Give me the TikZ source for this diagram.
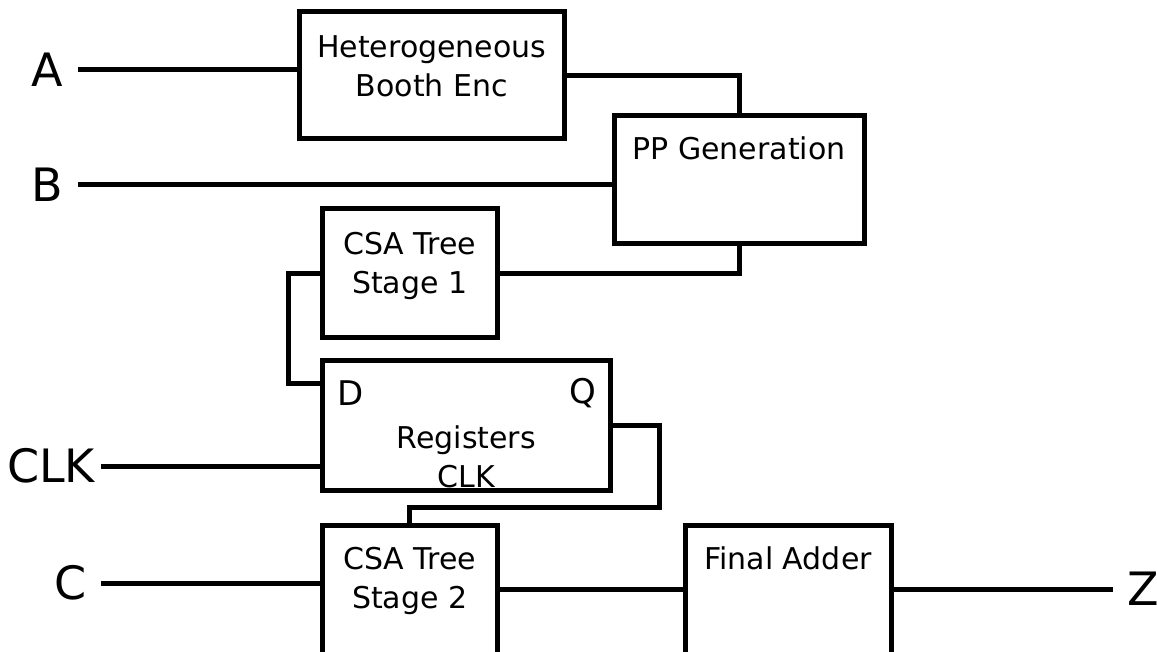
\documentclass[tikz,border=0pt]{standalone}
\usepackage{fontspec}
\setmainfont{DejaVu Sans}
\begin{document}
\begin{tikzpicture}[x=1pt,y=-1pt,
  wire/.style={line width=5pt},
  blk/.style={draw, line width=5pt, rectangle, inner sep=0pt},
  txt/.style={font=\fontsize{30}{39}\selectfont, align=center, inner sep=0pt},
  pin/.style={font=\fontsize{34}{40}\selectfont, inner sep=0pt},
  lbl/.style={font=\fontsize{46}{50}\selectfont, inner sep=0pt}]
\useasboundingbox (0,0) rectangle (1157,652);

% texts inside blocks
\node[txt] (tbooth) at (431.75,66) {Heterogeneous\\Booth Enc};
\node[txt] (tpp) at (739,148) {PP Generation};
\node[txt] (tcsa1) at (409.75,266) {CSA Tree\\Stage 1};
\node[txt] (treg) at (466.25,457) {Registers\\CLK};
\node[pin] (td) at (351,393) {D};
\node[pin] (tq) at (583,393) {Q};
\node[txt] (tcsa2) at (409.75,581) {CSA Tree\\Stage 2};
\node[txt] (tfa) at (788,558) {Final Adder};

% blocks
\node[blk, minimum width=264.5pt, minimum height=127pt] (booth) at (431.75,75.5) {};
\node[blk, minimum width=250pt, minimum height=128pt] (pp) at (739,180) {};
\node[blk, minimum width=174.5pt, minimum height=129pt] (csa1) at (409.75,273.5) {};
\node[blk, minimum width=287.5pt, minimum height=129pt] (reg) at (466.25,425.5) {};
\node[blk, minimum width=174.5pt, minimum height=129pt] (csa2) at (409.75,589.5) {};
\node[blk, minimum width=206pt, minimum height=129pt] (fa) at (788,589.5) {};

% external labels
\node[lbl] (la) at (47.5,70) {A};
\node[lbl] (lb) at (47.5,185) {B};
\node[lbl] (lclk) at (51,466) {CLK};
\node[lbl] (lc) at (71,583) {C};
\node[lbl] (lz) at (1143,589) {Z};

% free ends
\coordinate (a0) at (78,70);
\coordinate (b0) at (78,185);
\coordinate (clk0) at (101,466);
\coordinate (c0) at (101,583);
\coordinate (z0) at (1113,589.5);
\coordinate (k1) at (288,383);
\coordinate (q1) at (659,507);

% connectors
\draw[wire] (a0) -- (a0 -| booth.west);
\draw[wire] (b0) -- (b0 -| pp.west);
\draw[wire] (booth.east) -| (pp.north);
\draw[wire] (pp.south) |- (csa1.east);
\draw[wire] (csa1.west) -| (k1) -- (k1 -| reg.west);
\draw[wire] (clk0) -- (clk0 -| reg.west);
\draw[wire] (reg.east) -| (q1) -| (csa2.north);
\draw[wire] (c0) -- (c0 -| csa2.west);
\draw[wire] (csa2.east) -- (fa.west);
\draw[wire] (fa.east) -- (z0);
\end{tikzpicture}
\end{document}
